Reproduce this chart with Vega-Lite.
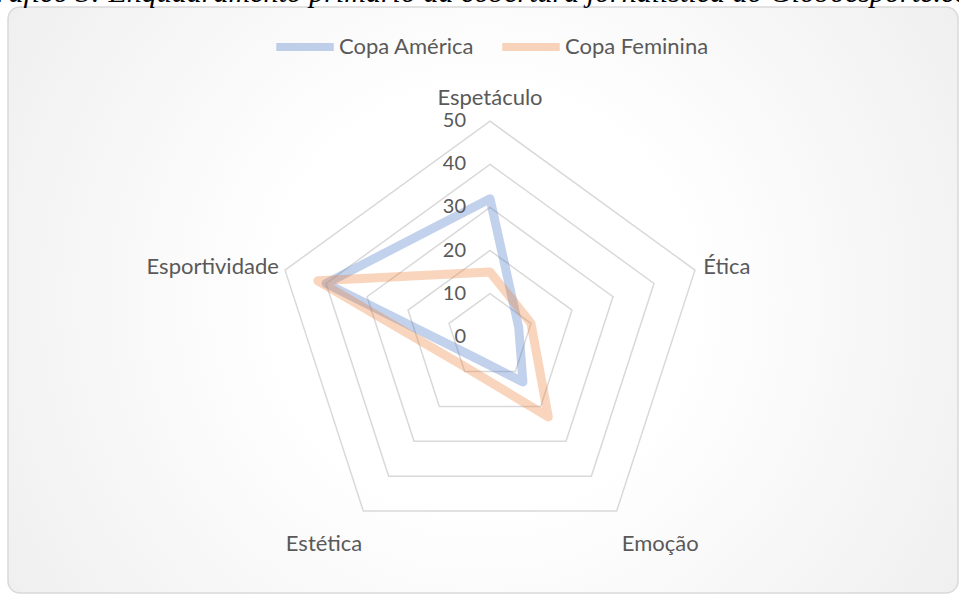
{
  "$schema": "https://vega.github.io/schema/vega-lite/v6.json",
  "width": 950,
  "height": 586,
  "autosize": {"type": "none"},
  "padding": {"left": 8, "top": 7, "right": 1, "bottom": 2},
  "title": {
    "text": "Gráfico 3: Enquadramento primário da cobertura jornalística do Globoesporte.com",
    "orient": "top",
    "anchor": "middle",
    "offset": 0,
    "dy": 25,
    "baseline": "alphabetic",
    "font": "Liberation Serif",
    "fontStyle": "italic",
    "fontWeight": "normal",
    "fontSize": 30,
    "color": "#000000"
  },
  "config": {
    "view": {
      "stroke": "#d9d9d9",
      "strokeWidth": 1.5,
      "cornerRadius": 12,
      "fill": {
        "gradient": "radial",
        "x1": 0.5, "y1": 0.5, "r1": 0,
        "x2": 0.5, "y2": 0.5, "r2": 0.62,
        "stops": [
          {"offset": 0, "color": "#ffffff"},
          {"offset": 0.35, "color": "#ffffff"},
          {"offset": 1, "color": "#eeeeee"}
        ]
      }
    }
  },
  "datasets": {
    "scores": [
      {"series": "Copa América", "axis": "Espetáculo", "value": 32},
      {"series": "Copa América", "axis": "Ética", "value": 7},
      {"series": "Copa América", "axis": "Emoção", "value": 13},
      {"series": "Copa América", "axis": "Estética", "value": 6},
      {"series": "Copa América", "axis": "Esportividade", "value": 40},
      {"series": "Copa Feminina", "axis": "Espetáculo", "value": 15},
      {"series": "Copa Feminina", "axis": "Ética", "value": 10},
      {"series": "Copa Feminina", "axis": "Emoção", "value": 23},
      {"series": "Copa Feminina", "axis": "Estética", "value": 9},
      {"series": "Copa Feminina", "axis": "Esportividade", "value": 42}
    ],
    "rings": [
      {"level": 10, "axis": ["Espetáculo", "Ética", "Emoção", "Estética", "Esportividade"]},
      {"level": 20, "axis": ["Espetáculo", "Ética", "Emoção", "Estética", "Esportividade"]},
      {"level": 30, "axis": ["Espetáculo", "Ética", "Emoção", "Estética", "Esportividade"]},
      {"level": 40, "axis": ["Espetáculo", "Ética", "Emoção", "Estética", "Esportividade"]},
      {"level": 50, "axis": ["Espetáculo", "Ética", "Emoção", "Estética", "Esportividade"]}
    ],
    "ticks": [
      {"level": 0}, {"level": 10}, {"level": 20}, {"level": 30}, {"level": 40}, {"level": 50}
    ],
    "axes": [
      {"axis": "Espetáculo"}, {"axis": "Ética"}, {"axis": "Emoção"}, {"axis": "Estética"}, {"axis": "Esportividade"}
    ]
  },
  "layer": [
    {
      "data": {"name": "rings"},
      "transform": [
        {"flatten": ["axis"]},
        {"calculate": "indexof(['Espetáculo','Ética','Emoção','Estética','Esportividade'], datum.axis)", "as": "idx"},
        {"calculate": "PI/2 - datum.idx*2*PI/5", "as": "ang"},
        {"calculate": "datum.level*cos(datum.ang)", "as": "x"},
        {"calculate": "datum.level*sin(datum.ang)", "as": "y"}
      ],
      "mark": {"type": "line", "interpolate": "linear-closed", "color": "#d9d9d9", "strokeWidth": 1.5},
      "encoding": {
        "x": {"field": "x", "type": "quantitative", "scale": {"domain": [-111.83, 108.58]}, "axis": null},
        "y": {"field": "y", "type": "quantitative", "scale": {"domain": [-59.47, 76.5]}, "axis": null},
        "order": {"field": "idx"},
        "detail": {"field": "level"}
      }
    },
    {
      "data": {"name": "scores"},
      "transform": [
        {"calculate": "indexof(['Espetáculo','Ética','Emoção','Estética','Esportividade'], datum.axis)", "as": "idx"},
        {"calculate": "PI/2 - datum.idx*2*PI/5", "as": "ang"},
        {"calculate": "datum.value*cos(datum.ang)", "as": "x"},
        {"calculate": "datum.value*sin(datum.ang)", "as": "y"}
      ],
      "mark": {"type": "line", "interpolate": "linear-closed", "strokeWidth": 9, "opacity": 0.32, "strokeJoin": "round", "strokeCap": "round"},
      "encoding": {
        "x": {"field": "x", "type": "quantitative", "scale": {"domain": [-111.83, 108.58]}, "axis": null},
        "y": {"field": "y", "type": "quantitative", "scale": {"domain": [-59.47, 76.5]}, "axis": null},
        "order": {"field": "idx"},
        "color": {
          "field": "series",
          "type": "nominal",
          "scale": {"domain": ["Copa América", "Copa Feminina"], "range": ["#4472C4", "#ED7D31"]},
          "legend": {
            "title": null,
            "orient": "none",
            "direction": "horizontal",
            "legendX": 264,
            "legendY": 7,
            "symbolType": "stroke",
            "symbolSize": 3300,
            "symbolStrokeWidth": 8,
            "symbolOpacity": 0.32,
            "labelFont": "Lato",
            "labelFontSize": 22,
            "labelColor": "#595959",
            "labelOffset": 1,
            "columnPadding": 11,
            "labelLimit": 300
          }
        }
      }
    },
    {
      "data": {"name": "ticks"},
      "mark": {"type": "text", "align": "right", "baseline": "middle", "dx": -24, "font": "Lato", "fontSize": 20, "color": "#595959"},
      "encoding": {
        "x": {"datum": 0, "type": "quantitative", "scale": {"domain": [-111.83, 108.58]}, "axis": null},
        "y": {"field": "level", "type": "quantitative", "scale": {"domain": [-59.47, 76.5]}, "axis": null},
        "text": {"field": "level", "type": "quantitative"}
      }
    },
    {
      "data": {"name": "axes"},
      "transform": [
        {"calculate": "indexof(['Espetáculo','Ética','Emoção','Estética','Esportividade'], datum.axis)", "as": "idx"},
        {"filter": "datum.idx == 0"},
        {"calculate": "PI/2 - datum.idx*2*PI/5", "as": "ang"},
        {"calculate": "52*cos(datum.ang)", "as": "x"},
        {"calculate": "52*sin(datum.ang)", "as": "y"}
      ],
      "mark": {"type": "text", "align": "center", "baseline": "bottom", "dy": -3, "font": "Lato", "fontSize": 22, "color": "#595959"},
      "encoding": {
        "x": {"field": "x", "type": "quantitative", "scale": {"domain": [-111.83, 108.58]}, "axis": null},
        "y": {"field": "y", "type": "quantitative", "scale": {"domain": [-59.47, 76.5]}, "axis": null},
        "text": {"field": "axis"}
      }
    },
    {
      "data": {"name": "axes"},
      "transform": [
        {"calculate": "indexof(['Espetáculo','Ética','Emoção','Estética','Esportividade'], datum.axis)", "as": "idx"},
        {"filter": "datum.idx == 1"},
        {"calculate": "PI/2 - datum.idx*2*PI/5", "as": "ang"},
        {"calculate": "52*cos(datum.ang)", "as": "x"},
        {"calculate": "52*sin(datum.ang)", "as": "y"}
      ],
      "mark": {"type": "text", "align": "left", "baseline": "middle", "font": "Lato", "fontSize": 22, "color": "#595959"},
      "encoding": {
        "x": {"field": "x", "type": "quantitative", "scale": {"domain": [-111.83, 108.58]}, "axis": null},
        "y": {"field": "y", "type": "quantitative", "scale": {"domain": [-59.47, 76.5]}, "axis": null},
        "text": {"field": "axis"}
      }
    },
    {
      "data": {"name": "axes"},
      "transform": [
        {"calculate": "indexof(['Espetáculo','Ética','Emoção','Estética','Esportividade'], datum.axis)", "as": "idx"},
        {"filter": "datum.idx == 4"},
        {"calculate": "PI/2 - datum.idx*2*PI/5", "as": "ang"},
        {"calculate": "52*cos(datum.ang)", "as": "x"},
        {"calculate": "52*sin(datum.ang)", "as": "y"}
      ],
      "mark": {"type": "text", "align": "right", "baseline": "middle", "dx": 2, "font": "Lato", "fontSize": 22, "color": "#595959"},
      "encoding": {
        "x": {"field": "x", "type": "quantitative", "scale": {"domain": [-111.83, 108.58]}, "axis": null},
        "y": {"field": "y", "type": "quantitative", "scale": {"domain": [-59.47, 76.5]}, "axis": null},
        "text": {"field": "axis"}
      }
    },
    {
      "data": {"name": "axes"},
      "transform": [
        {"calculate": "indexof(['Espetáculo','Ética','Emoção','Estética','Esportividade'], datum.axis)", "as": "idx"},
        {"filter": "datum.idx == 2"},
        {"calculate": "PI/2 - datum.idx*2*PI/5", "as": "ang"},
        {"calculate": "52*cos(datum.ang)", "as": "x"},
        {"calculate": "52*sin(datum.ang)", "as": "y"}
      ],
      "mark": {"type": "text", "align": "left", "baseline": "top", "dy": 16, "font": "Lato", "fontSize": 22, "color": "#595959"},
      "encoding": {
        "x": {"field": "x", "type": "quantitative", "scale": {"domain": [-111.83, 108.58]}, "axis": null},
        "y": {"field": "y", "type": "quantitative", "scale": {"domain": [-59.47, 76.5]}, "axis": null},
        "text": {"field": "axis"}
      }
    },
    {
      "data": {"name": "axes"},
      "transform": [
        {"calculate": "indexof(['Espetáculo','Ética','Emoção','Estética','Esportividade'], datum.axis)", "as": "idx"},
        {"filter": "datum.idx == 3"},
        {"calculate": "PI/2 - datum.idx*2*PI/5", "as": "ang"},
        {"calculate": "52*cos(datum.ang)", "as": "x"},
        {"calculate": "52*sin(datum.ang)", "as": "y"}
      ],
      "mark": {"type": "text", "align": "right", "baseline": "top", "dy": 16, "dx": 4, "font": "Lato", "fontSize": 22, "color": "#595959"},
      "encoding": {
        "x": {"field": "x", "type": "quantitative", "scale": {"domain": [-111.83, 108.58]}, "axis": null},
        "y": {"field": "y", "type": "quantitative", "scale": {"domain": [-59.47, 76.5]}, "axis": null},
        "text": {"field": "axis"}
      }
    }
  ]
}
